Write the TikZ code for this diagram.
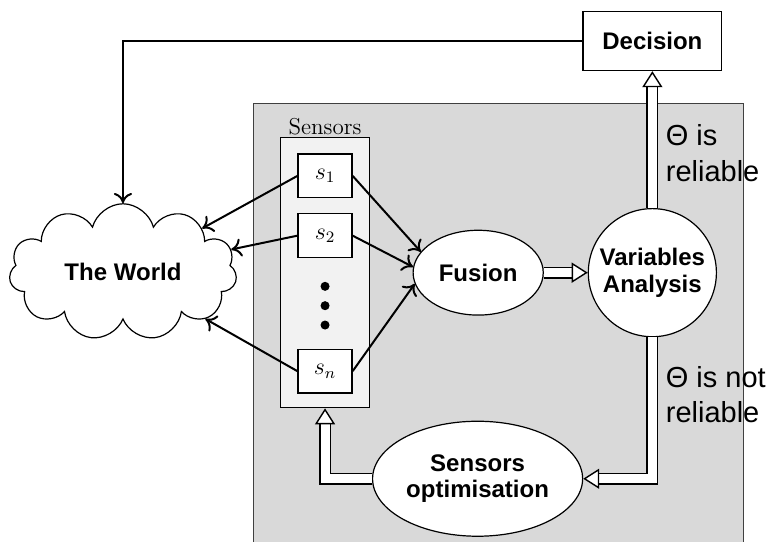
\documentclass[tikz,border=0pt]{standalone}
\usepackage{fontspec}
\setsansfont{Liberation Sans}
\usetikzlibrary{arrows.meta,shapes.geometric,shapes.symbols,positioning}

\begin{document}
\begin{tikzpicture}[
    lbl/.style={font=\fontsize{12}{13.3}\selectfont\sffamily\bfseries,align=center,draw,fill=white,line width=0.6pt},
    sbox/.style={draw,fill=white,line width=0.6pt,minimum width=0.95cm,minimum height=0.77cm,inner sep=1pt,font=\fontsize{12}{14}\selectfont},
    arr/.style={-{To[length=1.8mm,width=3.2mm]},line width=1pt},
    dbl/.style={double,double distance=4.5pt,line width=0.7pt,-{Triangle[fill=white,length=8pt,width=10pt]}},
    cond/.style={font=\fontsize{14.5}{17.5}\selectfont\sffamily,align=left,anchor=west,inner sep=0pt}
]
\useasboundingbox (0,0) rectangle (13.72,9.52);

% processing area
\fill[black!15] (4.46,-0.2) rectangle (13.06,7.70);
\draw[black!75,line width=0.5pt] (4.46,-0.2) -- (4.46,7.70) -- (13.06,7.70) -- (13.06,-0.2);

% sensors
\node[draw,fill=black!5,line width=0.5pt,minimum width=1.55cm,minimum height=4.75cm] (sens) at (5.71,4.73) {};
\node[anchor=south,inner sep=1pt,font=\fontsize{11.5}{13}\selectfont] (senslbl) at (sens.north) {Sensors};
\node[sbox] (s1) at (5.71,6.43) {$s_1$};
\node[sbox] (s2) at (5.71,5.38) {$s_2$};
\node[sbox] (sn) at (5.71,3.00) {$s_n$};
\foreach \y [count=\i] in {4.49,4.15,3.81}
  \node[circle,fill,inner sep=1.6pt] (dot\i) at (5.71,\y) {};

% main blocks
\node[lbl,cloud,cloud puffs=11,cloud ignores aspect,minimum width=4.0cm,minimum height=2.4cm] (world) at (2.16,4.74) {The World};
\node[lbl,ellipse,minimum width=2.18cm,minimum height=1.49cm] (fus) at (8.40,4.73) {Fusion};
\node[lbl,circle,minimum size=2.25cm,inner sep=0pt] (var) at (11.46,4.73) {Variables\\Analysis};
\node[lbl,ellipse,minimum width=3.69cm,minimum height=2.02cm,inner sep=0pt] (opt) at (8.39,1.11) {Sensors\\optimisation};
\node[lbl,minimum width=2.44cm,minimum height=1.04cm] (dec) at (11.46,8.80) {Decision};

% conditions
\node[cond] (ok) at (11.69,6.83) {Θ is\\reliable};
\node[cond] (nok) at (11.69,2.58) {Θ is not\\reliable};

% connectors
\draw[arr] (dec.west) -| (world.north);
\foreach \s in {s1,s2,sn}
  \draw[arr] (\s.west) -- (world);
\draw[arr] (s1.east) -- (fus.160);
\draw[arr] (s2.east) -- (fus.175);
\draw[arr] (sn.east) -- (fus.190);
\draw[dbl] (fus) -- (var);
\draw[dbl] (var) -- (dec);
\draw[dbl] (var.south) |- (opt.east);
\draw[dbl] (opt.west) -| (sens.south);
\end{tikzpicture}
\end{document}
